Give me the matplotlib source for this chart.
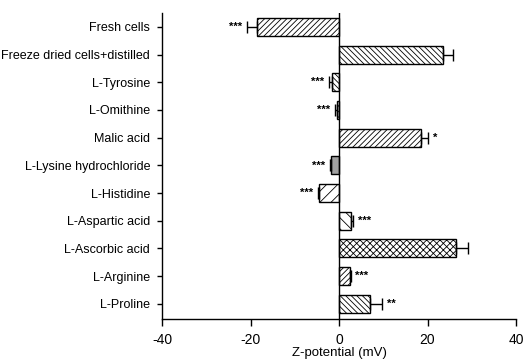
import numpy as np
import matplotlib.pyplot as plt

plt.rcParams['font.family'] = ['Liberation Sans', 'DejaVu Sans']
plt.rcParams['hatch.linewidth'] = 0.6
plt.rcParams['axes.unicode_minus'] = False

labels = ['Fresh cells', 'Freeze dried cells+distilled', 'L-Tyrosine', 'L-Omithine',
          'Malic acid', 'L-Lysine hydrochloride', 'L-Histidine', 'L-Aspartic acid',
          'L-Ascorbic acid', 'L-Arginine', 'L-Proline']
values = [-18.6, 23.4, -1.6, -0.5, 18.6, -1.8, -4.5, 2.7, 26.4, 2.4, 7.0]
errors = [2.3, 2.3, 0.7, 0.4, 1.6, 0.3, 0.3, 0.5, 2.7, 0.3, 2.8]
stars = ['***', '', '***', '***', '*', '***', '***', '***', '', '***', '**']
hatches = ['//////', '\\\\\\\\\\\\', '\\\\\\\\\\\\', '//////', '//////', '',
           '///', '\\\\\\', 'xxxxx', '//////', '\\\\\\\\\\\\']
faces = ['white'] * 5 + ['#a0a0a0'] + ['white'] * 5

fig = plt.figure(figsize=(5.26, 3.63), dpi=100)
ax = fig.add_axes([0.308, 0.121, 0.673, 0.843])

y = np.arange(len(labels))
for i in range(len(labels)):
    ax.barh(y[i], values[i], height=0.65, color=faces[i], edgecolor='black',
            hatch=hatches[i], linewidth=1.0)
    ax.errorbar(values[i], y[i], xerr=[[0], [errors[i]]] if values[i] > 0 else [[errors[i]], [0]],
                fmt='none', ecolor='black', elinewidth=1.0, capsize=4, capthick=1.0)
    if stars[i]:
        end = values[i] + np.sign(values[i]) * errors[i]
        off = 1.0
        if values[i] > 0:
            ax.text(end + off, y[i], stars[i], ha='left', va='center', fontsize=8, fontweight='bold')
        else:
            ax.text(end - off, y[i], stars[i], ha='right', va='center', fontsize=8, fontweight='bold')

ax.axvline(0, color='black', linewidth=1.0)
ax.set_xlim(-40, 40)
ax.set_ylim(len(labels) - 0.45, -0.5)
ax.set_xticks([-40, -20, 0, 20, 40])
ax.set_yticks(y)
ax.set_yticklabels(labels)
ax.tick_params(axis='y', labelsize=9, length=3.6, width=1.0, pad=5)
ax.tick_params(axis='x', labelsize=10, length=5, width=1.0, pad=5)
ax.set_xlabel('Z-potential (mV)', fontsize=9.5, labelpad=0)
ax.spines['top'].set_visible(False)
ax.spines['right'].set_visible(False)
ax.spines['left'].set_linewidth(1.0)
ax.spines['bottom'].set_linewidth(1.0)

fig.savefig('out.png', dpi=100)
